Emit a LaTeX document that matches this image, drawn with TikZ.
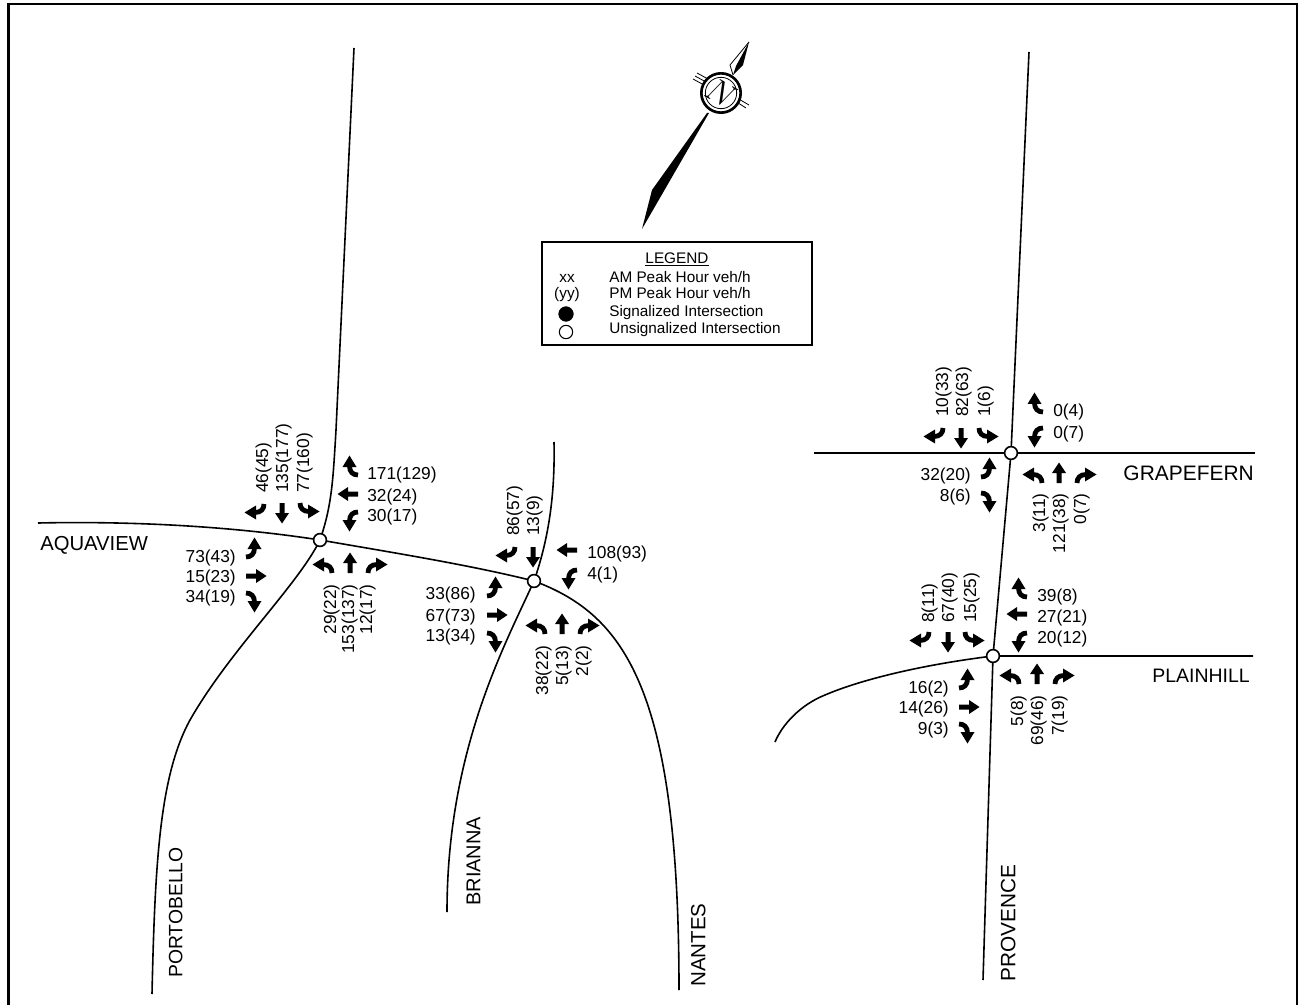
\documentclass[tikz,border=0pt]{standalone}
\usepackage{fontspec}
\setmainfont{Liberation Sans}
\tikzset{
  numtext/.style={inner sep=0pt,font=\fontsize{13}{15}\selectfont,text height=9.3pt,text depth=0pt},
  nl/.style={numtext,anchor=west},
  nr/.style={numtext,anchor=east},
  vb/.style={numtext,rotate=90,anchor=west},
  vt/.style={numtext,rotate=90,anchor=east},
  roadname/.style={inner sep=0pt,font=\fontsize{#1}{17}\selectfont,text height=10.9pt,text depth=0pt},
  legtext/.style={inner sep=0pt,font=\fontsize{11.5}{13}\selectfont,text height=8.3pt,text depth=0pt},
  road/.style={line width=1.2pt,line join=round},
  junction/.style={circle,draw,fill=white,line width=1.2pt,minimum size=9.6pt,inner sep=0pt},
  thru/.pic={\fill (-2.5,0)--(-2.5,-10)--(-7,-10)--(0,-20.5)--(7,-10)--(2.5,-10)--(2.5,0)--cycle;},
  rgt/.pic={\draw[line width=3.6pt] (0,0) .. controls (0,-5) and (3,-8.5) .. (9,-8.5);
            \fill (8,-15.5)--(19.5,-8.5)--(8,-1.5)--cycle;},
  lft/.pic={\draw[line width=3.6pt] (0,0) .. controls (0,-5) and (-3,-8.5) .. (-9,-8.5);
            \fill (-8,-15.5)--(-19.5,-8.5)--(-8,-1.5)--cycle;},
}
\begin{document}
\begin{tikzpicture}[x=0.75pt,y=-0.75pt]
\useasboundingbox[fill=white] (0,0) rectangle (1299,1005);
% frame
\draw[line width=1.6pt,line join=miter] (8.5,1010)--(8.5,4)--(1297,4)--(1297,1010);
\fill (34,-1) arc[start angle=180,end angle=360,x radius=7,y radius=2.2];
% junction positions
\coordinate (A) at (320,540);
\coordinate (B) at (534,581);
\coordinate (C) at (1011,453);
\coordinate (D) at (993,656);
\coordinate (portotop) at (354,48);
\coordinate (portobot) at (152,994);
\coordinate (aquaend) at (38,523);
\coordinate (briatop) at (554,442);
\coordinate (briabot) at (447,912);
\coordinate (nantbot) at (679,990);
\coordinate (provtop) at (1029,52);
\coordinate (provbot) at (983,980);
\coordinate (grapw) at (814,453);
\coordinate (grape) at (1255,453);
\coordinate (plaine) at (1253,656);
\coordinate (plainw) at (775,742);
% roads
\draw[road] (portotop)--(336,430) .. controls (333,480) and (332,505) .. (A)
  .. controls (298,585) and (230,650) .. (190,720)
  .. controls (160,775) and (155,860) .. (portobot);
\draw[road] (aquaend) .. controls (130,521) and (230,526) .. (A)
  .. controls (395,553) and (470,565) .. (B)
  .. controls (625,615) and (679,690) .. (nantbot);
\draw[road] (briatop) .. controls (555,490) and (550,535) .. (B)
  .. controls (505,645) and (447,750) .. (briabot);
\draw[road] (provtop)--(C)--(D)--(provbot);
\draw[road] (grapw)--(grape);
\draw[road] (plaine)--(D) .. controls (920,665) and (860,680) .. (825,695)
  .. controls (800,705) and (782,725) .. (plainw);
\node[junction] (ja) at (A) {};
\node[junction] (jb) at (B) {};
\node[junction] (jc) at (C) {};
\node[junction] (jd) at (D) {};
% arrows A
\pic at (332,573) {lft}; \pic at (350,573) {thru}; \pic at (368,573) {rgt};
\pic[rotate=90] at (358,475) {rgt}; \pic[rotate=90] at (358,494) {thru}; \pic[rotate=90] at (358,512) {lft};
\pic[rotate=180] at (264,504) {rgt}; \pic[rotate=180] at (282,503) {thru}; \pic[rotate=180] at (300,503) {lft};
\pic[rotate=270] at (246,557) {lft}; \pic[rotate=270] at (246,576) {thru}; \pic[rotate=270] at (246,593) {rgt};
% arrows B
\pic at (545,634) {lft}; \pic at (562,634) {thru}; \pic at (580,634) {rgt};
\pic[rotate=90] at (577,550) {thru}; \pic[rotate=90] at (577,570) {lft};
\pic[rotate=180] at (515,547) {rgt}; \pic[rotate=180] at (533,547) {thru};
\pic[rotate=270] at (487,596) {lft}; \pic[rotate=270] at (487,615) {thru}; \pic[rotate=270] at (487,633) {rgt};
% arrows C
\pic[rotate=90] at (1043,412) {rgt}; \pic[rotate=90] at (1043,428) {lft};
\pic[rotate=180] at (943,428) {rgt}; \pic[rotate=180] at (961,428) {thru}; \pic[rotate=180] at (979,428) {lft};
\pic[rotate=270] at (981,477) {lft}; \pic[rotate=270] at (981,493) {rgt};
\pic at (1042,483) {lft}; \pic at (1059,483) {thru}; \pic at (1077,483) {rgt};
% arrows D
\pic[rotate=90] at (1027,597) {rgt}; \pic[rotate=90] at (1027,614) {thru}; \pic[rotate=90] at (1027,633) {lft};
\pic[rotate=180] at (929,632) {rgt}; \pic[rotate=180] at (948,632) {thru}; \pic[rotate=180] at (965,632) {lft};
\pic[rotate=270] at (959,688) {lft}; \pic[rotate=270] at (959,707) {thru}; \pic[rotate=270] at (959,724) {rgt};
\pic at (1019,684) {lft}; \pic at (1037,684) {thru}; \pic at (1055,684) {rgt};
% labels A
\node[nl] (ae1) at (367,473) {171(129)};
\node[nl] (ae2) at (367,495) {32(24)};
\node[nl] (ae3) at (367,515) {30(17)};
\node[vb] (an1) at (262,493) {46(45)};
\node[vb] (an2) at (282,493) {135(177)};
\node[vb] (an3) at (303,493) {77(160)};
\node[vt] (as1) at (330,584) {29(22)};
\node[vt] (as2) at (348,584) {153(137)};
\node[vt] (as3) at (366,584) {12(17)};
\node[nr] (aw1) at (236,556) {73(43)};
\node[nr] (aw2) at (236,576) {15(23)};
\node[nr] (aw3) at (236,596) {34(19)};
% labels B
\node[vb] (bn1) at (513,536) {86(57)};
\node[vb] (bn2) at (533,536) {13(9)};
\node[nl] (be1) at (587,552) {108(93)};
\node[nl] (be2) at (587,573) {4(1)};
\node[nr] (bw1) at (476,593) {33(86)};
\node[nr] (bw2) at (476,615) {67(73)};
\node[nr] (bw3) at (476,635) {13(34)};
\node[vt] (bs1) at (542,645) {38(22)};
\node[vt] (bs2) at (562,645) {5(13)};
\node[vt] (bs3) at (582,645) {2(2)};
% labels C
\node[vb] (cn1) at (942,417) {10(33)};
\node[vb] (cn2) at (962,417) {82(63)};
\node[vb] (cn3) at (984,417) {1(6)};
\node[nl] (ce1) at (1053,410) {0(4)};
\node[nl] (ce2) at (1053,432) {0(7)};
\node[nr] (cw1) at (971,474) {32(20)};
\node[nr] (cw2) at (971,495) {8(6)};
\node[vt] (cs1) at (1039,493) {3(11)};
\node[vt] (cs2) at (1059,493) {121(38)};
\node[vt] (cs3) at (1080,493) {0(7)};
% labels D
\node[vb] (dn1) at (928,623) {8(11)};
\node[vb] (dn2) at (948,623) {67(40)};
\node[vb] (dn3) at (970,623) {15(25)};
\node[nl] (de1) at (1037,595) {39(8)};
\node[nl] (de2) at (1037,616) {27(21)};
\node[nl] (de3) at (1037,637) {20(12)};
\node[nr] (dw1) at (949,687) {16(2)};
\node[nr] (dw2) at (949,707) {14(26)};
\node[nr] (dw3) at (949,728) {9(3)};
\node[vt] (ds1) at (1017,695) {5(8)};
\node[vt] (ds2) at (1037,695) {69(46)};
\node[vt] (ds3) at (1058,695) {7(19)};
% road names
\node[roadname=15.2,anchor=west] (naqua) at (40,543) {AQUAVIEW};
\node[roadname=15.7,anchor=east] (ngrape) at (1254,473) {GRAPEFERN};
\node[roadname=14.6,anchor=east] (nplain) at (1250,675) {PLAINHILL};
\node[roadname=14.5,rotate=90,anchor=west] (nporto) at (175,978) {PORTOBELLO};
\node[roadname=15,rotate=90,anchor=west] (nbria) at (473,906) {BRIANNA};
\node[roadname=15.4,rotate=90,anchor=west] (nnant) at (698,987) {NANTES};
\node[roadname=15.6,rotate=90,anchor=west] (nprov) at (1008,982) {PROVENCE};
% legend
\node[draw,line width=0.8pt,minimum width=202.5pt,minimum height=77.25pt,inner sep=0pt] (legendbox) at (677,293.5) {};
\node[legtext] (legtitle) at (677,258) {\underline{LEGEND}};
\node[legtext] (legxx) at (567,277) {xx};
\node[legtext] (legyy) at (567,293) {(yy)};
\node[legtext,anchor=west] (legam) at (609,277) {AM Peak Hour veh/h};
\node[legtext,anchor=west] (legpm) at (609,293) {PM Peak Hour veh/h};
\node[legtext,anchor=west] (legsig) at (609,311) {Signalized Intersection};
\node[legtext,anchor=west] (leguns) at (609,328) {Unsignalized Intersection};
\node[circle,fill=black,draw,minimum size=11pt,inner sep=0pt] (legfill) at (566,314) {};
\node[circle,draw,fill=white,line width=0.8pt,minimum size=10pt,inner sep=0pt] (legopen) at (566,332) {};
% compass
\fill (642,229)--(652,190)--(707,113)--(709,113)--cycle;
\draw[line width=0.6pt] (749,42)--(730,65)--(733,75);
\fill (749,42)--(743,65)--(733,75)--(736,66)--cycle;
\draw[line width=0.6pt] (693,79)--(704,85) (695,76)--(706,82) (697,73)--(708,79);
\draw[line width=0.6pt] (735,101)--(746,108) (737,98)--(749,105);
\node[circle,draw,fill=white,line width=2pt,minimum size=29.5pt,inner sep=0pt] (compass) at (721,93) {};
\node[circle,draw,line width=0.6pt,minimum size=23.5pt,inner sep=0pt] (compassin) at (721,93) {};
\node[rotate=-30,inner sep=0pt,font=\fontsize{24}{26}\selectfont] (north) at (721,93) {$N$};
\end{tikzpicture}
\end{document}
